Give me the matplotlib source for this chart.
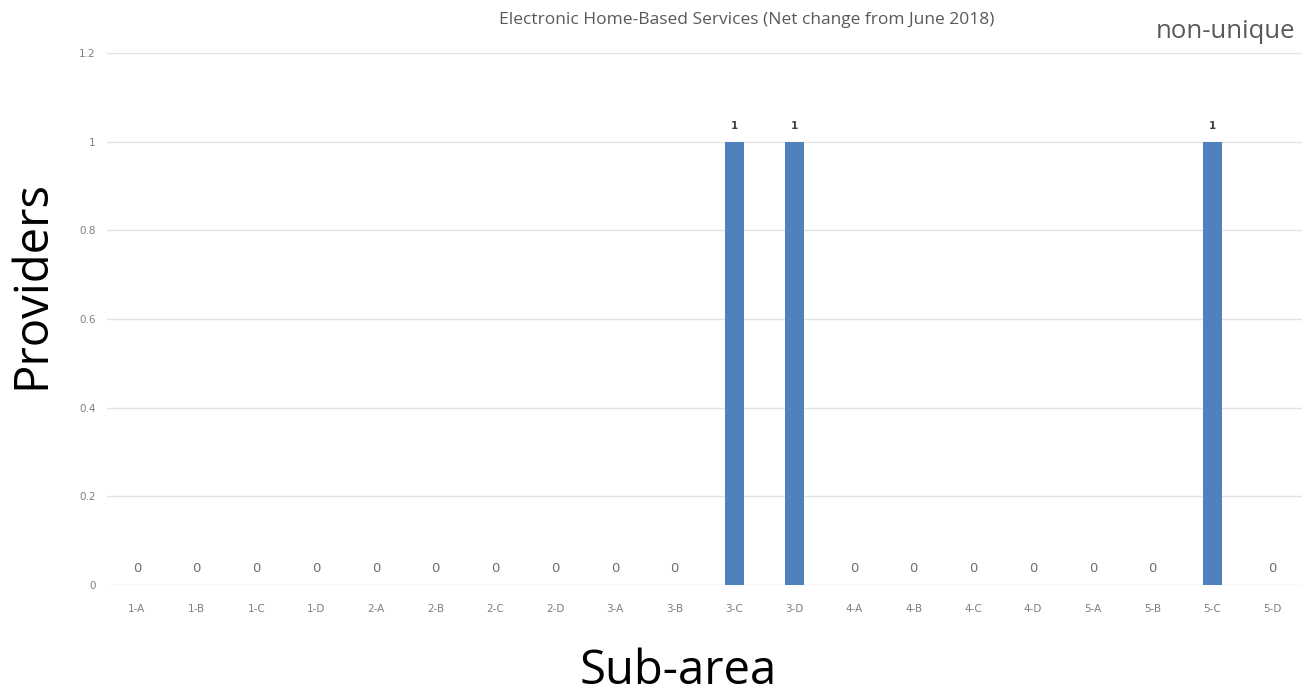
import matplotlib
matplotlib.use("Agg")
import matplotlib.pyplot as plt

categories = ["1-A", "1-B", "1-C", "1-D", "2-A", "2-B", "2-C", "2-D", "3-A", "3-B",
              "3-C", "3-D", "4-A", "4-B", "4-C", "4-D", "5-A", "5-B", "5-C", "5-D"]
values = [0, 0, 0, 0, 0, 0, 0, 0, 0, 0, 1, 1, 0, 0, 0, 0, 0, 0, 1, 0]
yticks = [0, 0.2, 0.4, 0.6, 0.8, 1, 1.2]
ytick_labels = ["0", "0.2", "0.4", "0.6", "0.8", "1", "1.2"]

fig = plt.figure(figsize=(13.06, 6.93), dpi=100)
W, H = 1306, 693
ax = fig.add_axes([107 / W, 1 - 585 / H, (1302 - 107) / W, (585 - 53) / H])

x = list(range(len(categories)))
ax.bar(x, values, width=0.32, color="#4f81bd", zorder=3)
ax.set_xlim(-0.5, len(categories) - 0.5)
ax.set_ylim(0, 1.2)
ax.set_yticks(yticks)
ax.set_yticklabels(ytick_labels)
ax.set_xticks(x)
ax.set_xticklabels(categories)
ax.grid(axis="y", color="#e3e3e3", linewidth=1, zorder=0)
for s in ax.spines.values():
    s.set_visible(False)
ax.tick_params(axis="both", length=0, labelsize=7.5, labelcolor="#7f7f7f", pad=14)
ax.tick_params(axis="y", pad=8)

for xi, v in zip(x, values):
    if v > 0:
        ax.annotate(str(v), (xi, v), xytext=(0, 8), textcoords="offset points",
                    ha="center", va="bottom", fontsize=7.5, color="#404040", fontweight="bold")
    else:
        ax.annotate(str(v), (xi, v), xytext=(0, 7), textcoords="offset points",
                    ha="center", va="bottom", fontsize=9.5, color="#6f6f6f")

fig.text(747 / W, 1 - 20 / H, "Electronic Home-Based Services (Net change from June 2018)",
         ha="center", va="center", fontsize=12.5, color="#595959", family="Open Sans")
fig.text(1226 / W, 1 - 32 / H, "non-unique", ha="center", va="center",
         fontsize=18.5, color="#595959", family="Open Sans")
fig.text(32 / W, 1 - 285 / H, "Providers", ha="center", va="center", rotation=90,
         fontsize=34, color="black", family="Open Sans")
fig.text(678 / W, 1 - 671 / H, "Sub-area", ha="center", va="center",
         fontsize=34, color="black", family="Open Sans")

fig.savefig("out.png", dpi=100)
